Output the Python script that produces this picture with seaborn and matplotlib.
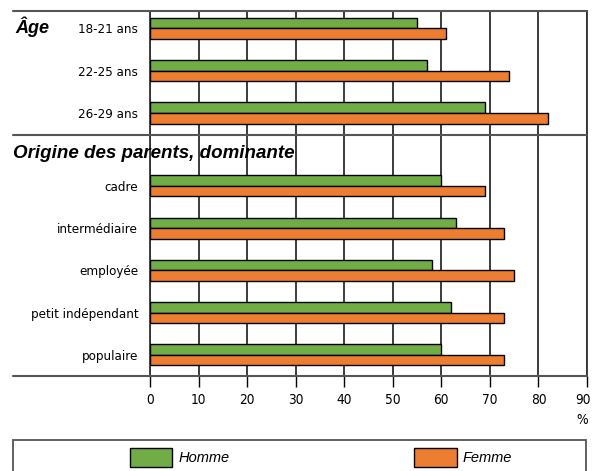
import pandas as pd
import seaborn as sns
import matplotlib.pyplot as plt
from matplotlib.lines import Line2D
from matplotlib.patches import Rectangle
from matplotlib.transforms import ScaledTranslation

# data (%)
age_labels = ['18-21 ans', '22-25 ans', '26-29 ans']
age_homme = [55, 57, 69]
age_femme = [61, 74, 82]

origine_labels = ['cadre', 'intermédiaire', 'employée', 'petit indépendant', 'populaire']
origine_homme = [60, 63, 58, 62, 60]
origine_femme = [69, 73, 75, 73, 73]

series = ['Homme', 'Femme']
colors = ['#70AD47', '#ED7D31']
x_ticks = [0, 10, 20, 30, 40, 50, 60, 70, 80, 90]


def long_df(labels, homme, femme):
    df = pd.DataFrame({'groupe': labels, 'Homme': homme, 'Femme': femme})
    return df.melt(id_vars='groupe', var_name='sexe', value_name='pct')


df_age = long_df(age_labels, age_homme, age_femme)
df_orig = long_df(origine_labels, origine_homme, origine_femme)

sns.set_style('white')
plt.rcParams['font.family'] = ['DejaVu Sans']
plt.rcParams['font.stretch'] = 'condensed'
for k in ['text.color', 'axes.labelcolor', 'xtick.color', 'ytick.color']:
    plt.rcParams[k] = 'black'

W, H = 593, 471
fig = plt.figure(figsize=(W / 100, H / 100), dpi=100)
left, right = 150 / W, 587 / W


def fy(px):
    return 1 - px / H


ax1 = fig.add_axes([left, fy(135), right - left, fy(11) - fy(135)])
ax2 = fig.add_axes([left, fy(376), right - left, fy(135) - fy(376)], sharex=ax1)

for ax, df in [(ax1, df_age), (ax2, df_orig)]:
    sns.barplot(data=df, y='groupe', x='pct', hue='sexe', hue_order=series,
                palette=colors, saturation=1, orient='h', width=0.5, gap=0,
                edgecolor='black', linewidth=1, ax=ax, zorder=3)
    ax.set_xlim(0, 90)
    ax.set_xticks(x_ticks)
    ax.set_xlabel('')
    ax.set_ylabel('')
    ax.grid(axis='x', color='#1a1a1a', linewidth=1.2, zorder=0)
    ax.set_axisbelow(True)
    for s in ['top', 'bottom']:
        ax.spines[s].set_visible(False)
    for s in ['left', 'right']:
        ax.spines[s].set_color('#333333')
        ax.spines[s].set_linewidth(1.3)
    ax.tick_params(axis='y', length=0, pad=8.5, labelsize=9.5)

ax1.set_ylim(2.52, -0.41)
ax2.set_ylim(4.50, -1.205)
ax1.tick_params(axis='x', length=0, labelbottom=False)
ax2.tick_params(axis='x', direction='out', length=8, width=1, color='black',
                pad=4, labelsize=9.8, bottom=True)

# keep the "90" label inside the image
last = ax2.get_xticklabels()[-1]
last.set_transform(last.get_transform() + ScaledTranslation(-3 / 72, 0, fig.dpi_scale_trans))

# legend handles from seaborn, moved to a figure legend
old = ax2.get_legend()
handles = old.legend_handles
labels = [t.get_text() for t in old.get_texts()]
old.remove()
ax1.get_legend().remove()
for h in handles:
    h.set_edgecolor('black')
    h.set_linewidth(1)

# horizontal rules
for ypx in [11, 135, 376]:
    fig.add_artist(Line2D([13 / W, 587 / W], [fy(ypx), fy(ypx)],
                          transform=fig.transFigure, color='#555555', linewidth=1.5))

# section titles
fig.text(15 / W, fy(33), 'Âge', family='Liberation Sans', stretch='normal',
         fontweight='bold', style='italic', fontsize=13, va='baseline', ha='left')
fig.text(13 / W, fy(158), 'Origine des parents, dominante', family='Liberation Sans',
         stretch='normal', fontweight='bold', style='italic', fontsize=13.5,
         va='baseline', ha='left')

fig.text(582 / W, fy(420), '%', fontsize=9.8, ha='center', va='center')

# legend box
fig.add_artist(Rectangle((13 / W, -0.02), (586 - 13) / W, fy(440) + 0.02,
                         transform=fig.transFigure, fill=False,
                         edgecolor='#555555', linewidth=1.3))
fig.legend(handles, labels, loc='center left', bbox_to_anchor=(130 / W, fy(457.5)),
           ncol=2, frameon=False, borderpad=0, borderaxespad=0,
           handlelength=2.9, handleheight=1.55,
           handletextpad=0.4, columnspacing=12.7,
           prop={'family': 'Liberation Sans', 'style': 'italic', 'size': 10.5})

fig.savefig('out.png', dpi=100)
